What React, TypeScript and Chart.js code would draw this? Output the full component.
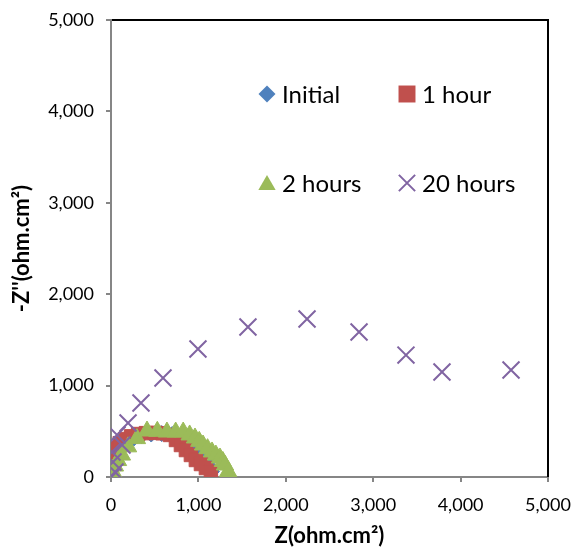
import React, { useEffect, useRef } from 'react';
import { Chart, registerables } from 'chart.js';

Chart.register(...registerables);

// ---- data ----
const seriesNames = ['Initial', '1 hour', '2 hours', '20 hours'];

const initialZ = [5, 20, 45, 80, 125, 185, 260, 350, 460, 580, 700, 800, 880, 950, 1010, 1060, 1100, 1130, 1150];
const initialZi = [40, 110, 180, 250, 320, 380, 425, 455, 470, 475, 465, 435, 390, 340, 285, 225, 165, 110, 60];

const oneHourZ = [0, 10, 20, 35, 60, 100, 160, 230, 310, 400, 500, 590, 675, 743, 800, 857, 914, 971, 1029, 1086, 1143];
const oneHourZi = [50, 120, 185, 250, 315, 370, 415, 445, 470, 480, 483, 478, 460, 405, 350, 295, 241, 186, 142, 98, 55];

const twoHoursZ = [5, 20, 45, 80, 125, 195, 297, 412, 530, 640, 740, 826, 900, 961, 1010, 1053, 1105, 1156, 1200, 1247, 1280, 1304, 1340];
const twoHoursZi = [20, 60, 120, 180, 240, 330, 420, 503, 500, 492, 492, 492, 460, 427, 390, 350, 310, 274, 240, 208, 170, 131, 60];

const twentyHoursZ = [5, 46, 23, 11, 126, 69, 195, 343, 595, 995, 1567, 2243, 2838, 3375, 3787, 4577];
const twentyHoursZi = [0, 55, 164, 273, 350, 460, 591, 810, 1083, 1400, 1641, 1729, 1586, 1334, 1149, 1171];

const xTickValues = [0, 1000, 2000, 3000, 4000, 5000];
const yTickValues = [0, 1000, 2000, 3000, 4000, 5000];

const xTitle = 'Z(ohm.cm\u00B2)';
const yTitle = "-Z''(ohm.cm\u00B2)";

const COLORS = ['#4F81BD', '#C0504D', '#9BBB59', '#8064A2'];
const STYLES = ['rectRot', 'rect', 'triangle', 'crossRot'];
const RADII = [8, 9.5, 10, 12];

const FONT = 'Lato, "Open Sans", "Liberation Sans", sans-serif';
const AXIS_GRAY = '#868686';

function toPoints(xs: number[], ys: number[]) {
  return xs.map((x, i) => ({ x, y: ys[i] }));
}

function drawMarker(ctx: CanvasRenderingContext2D, style: string, x: number, y: number, r: number, color: string) {
  ctx.save();
  ctx.fillStyle = color;
  ctx.strokeStyle = color;
  ctx.beginPath();
  if (style === 'rectRot') {
    ctx.moveTo(x - r, y);
    ctx.lineTo(x, y - r);
    ctx.lineTo(x + r, y);
    ctx.lineTo(x, y + r);
    ctx.closePath();
    ctx.fill();
  } else if (style === 'rect') {
    const s = Math.SQRT1_2 * r;
    ctx.rect(x - s, y - s, 2 * s, 2 * s);
    ctx.fill();
  } else if (style === 'triangle') {
    ctx.moveTo(x, y - r);
    ctx.lineTo(x + 0.866 * r, y + r / 2);
    ctx.lineTo(x - 0.866 * r, y + r / 2);
    ctx.closePath();
    ctx.fill();
  } else {
    const o = Math.SQRT1_2 * r;
    ctx.lineWidth = 2;
    ctx.moveTo(x - o, y - o);
    ctx.lineTo(x + o, y + o);
    ctx.moveTo(x + o, y - o);
    ctx.lineTo(x - o, y + o);
    ctx.stroke();
  }
  ctx.restore();
}

const framePlugin = {
  id: 'frame',
  beforeDatasetsDraw(chart: any) {
    const { ctx, chartArea } = chart;
    const { left, top, right, bottom } = chartArea;
    ctx.save();
    ctx.strokeStyle = '#000';
    ctx.lineWidth = 2;
    ctx.beginPath();
    ctx.moveTo(left + 1, top);
    ctx.lineTo(right, top);
    ctx.lineTo(right, bottom);
    ctx.stroke();
    ctx.restore();
  },
};

const legendPlugin = {
  id: 'customLegend',
  afterDraw(chart: any) {
    const { ctx, chartArea } = chart;
    const cols = [chartArea.left + 156, chartArea.left + 296];
    const rows = [chartArea.top + 74, chartArea.top + 163];
    ctx.save();
    ctx.font = `24px ${FONT}`;
    ctx.textBaseline = 'middle';
    ctx.textAlign = 'left';
    ctx.fillStyle = '#000';
    seriesNames.forEach((name, i) => {
      const cx = cols[i % 2];
      const cy = rows[Math.floor(i / 2)];
      const lr = [8.5, 12, 10, 11.5][i];
      drawMarker(ctx, STYLES[i], cx, cy + (i === 2 ? 2 : 0), lr, COLORS[i]);
      ctx.fillStyle = '#000';
      ctx.fillText(name, cx + 15, cy + 1);
    });
    ctx.restore();
  },
};

export default function App() {
  const canvasRef = useRef<HTMLCanvasElement | null>(null);

  useEffect(() => {
    const canvas = canvasRef.current;
    if (!canvas) return;
    const seriesData = [
      toPoints(initialZ, initialZi),
      toPoints(oneHourZ, oneHourZi),
      toPoints(twoHoursZ, twoHoursZi),
      toPoints(twentyHoursZ, twentyHoursZi),
    ];
    const chart = new Chart(canvas, {
      type: 'scatter',
      data: {
        datasets: seriesData.map((d, i) => ({
          label: seriesNames[i],
          data: d,
          pointStyle: STYLES[i] as any,
          pointRadius: RADII[i],
          pointHoverRadius: RADII[i],
          backgroundColor: COLORS[i],
          borderColor: COLORS[i],
          pointBorderWidth: i === 3 ? 2 : 1,
          showLine: false,
          order: 4 - i,
        })),
      },
      options: {
        animation: false,
        responsive: false,
        devicePixelRatio: 1,
        events: [],
        layout: { padding: { top: 20, right: 25, left: 0, bottom: 0 } },
        plugins: {
          legend: { display: false },
          tooltip: { enabled: false },
        },
        scales: {
          x: {
            type: 'linear',
            min: 0,
            max: 5000,
            afterFit: (scale: any) => {
              scale.height = 72;
              scale.paddingLeft = 0;
              scale.paddingRight = 0;
            },
            afterBuildTicks: (scale: any) => {
              scale.ticks = xTickValues.map((v) => ({ value: v }));
            },
            ticks: {
              color: '#000',
              font: { family: FONT, size: 18 },
              padding: 12,
              maxRotation: 0,
              callback: (v: any) => Number(v).toLocaleString('en-US'),
            },
            grid: {
              drawOnChartArea: false,
              color: AXIS_GRAY,
              lineWidth: 2,
              tickLength: 5,
            },
            border: { color: AXIS_GRAY, width: 2 },
            title: {
              display: true,
              text: xTitle,
              color: '#000',
              font: { family: FONT, size: 22, weight: 'bold' },
              padding: { top: 0, bottom: 0 },
            },
          },
          y: {
            type: 'linear',
            min: 0,
            max: 5000,
            afterFit: (scale: any) => {
              scale.width = 111;
              scale.paddingTop = 0;
              scale.paddingBottom = 0;
            },
            afterBuildTicks: (scale: any) => {
              scale.ticks = yTickValues.map((v) => ({ value: v }));
            },
            ticks: {
              color: '#000',
              font: { family: FONT, size: 18 },
              padding: 12,
              callback: (v: any) => Number(v).toLocaleString('en-US'),
            },
            grid: {
              drawOnChartArea: false,
              color: AXIS_GRAY,
              lineWidth: 2,
              tickLength: 5,
            },
            border: { color: AXIS_GRAY, width: 2 },
            title: {
              display: true,
              text: yTitle,
              color: '#000',
              font: { family: FONT, size: 22, weight: 'bold' },
              padding: { top: 9, bottom: 0 },
            },
          },
        },
      },
      plugins: [framePlugin, legendPlugin],
    });
    return () => chart.destroy();
  }, []);

  return (
    <div style={{ position: 'fixed', left: 0, top: 0, width: 573, height: 549, background: '#fff' }}>
      <canvas ref={canvasRef} width={573} height={549} style={{ display: 'block' }} />
    </div>
  );
}
